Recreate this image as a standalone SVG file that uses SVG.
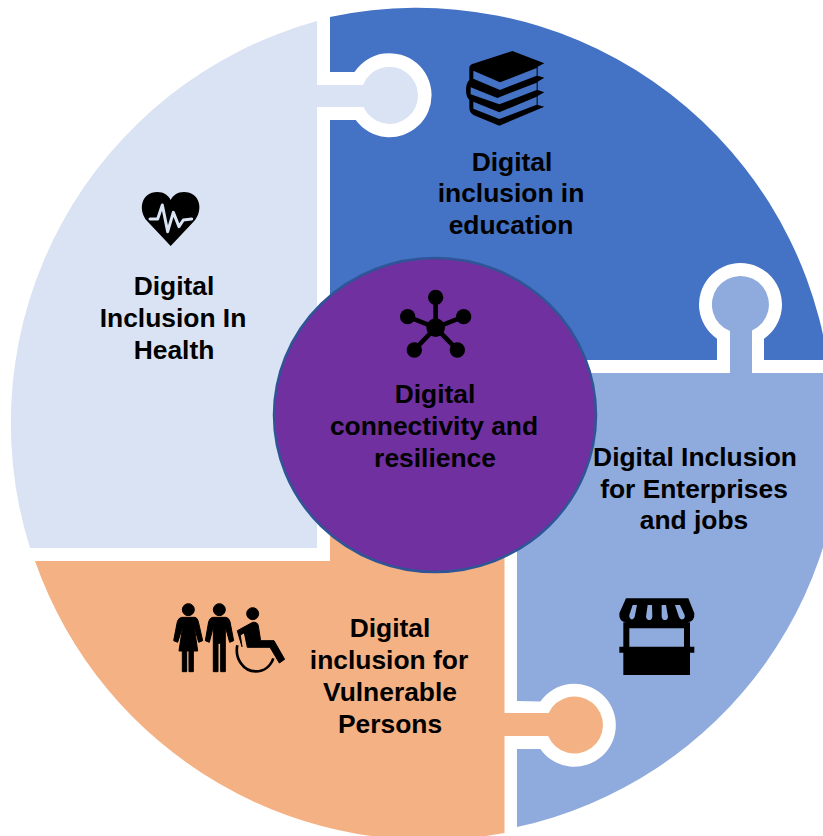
<svg xmlns="http://www.w3.org/2000/svg" width="823" height="836" viewBox="0 0 823 836">
<style>
.t{font-family:"Liberation Sans",Arial,sans-serif;font-weight:700;font-size:26.4px;fill:#000;text-anchor:middle}
.k{fill:#000}
</style>
<rect width="823" height="836" fill="#fff"/>
<g id="node-education">
<path fill="#4472c4" d="M330,17 A415.5,415.5 0 0 1 827.7,360 L764,360 L764,338.7 A41.5,41.5 0 1 0 717,338.7 L717,360 L330,360 L330,120 L355.7,120 A42,42 0 1 0 354.5,72 L330,72 Z"/>
<g class="k" transform="translate(440,30) scale(.3333)">
<path d="M217,63 L313,100 L293,110 L293,137 L313,143 L293,155 L293,180 L313,187 L293,198 L293,225 L313,230 L178,287 L100,255 Q88,248 88,232 L88,210 Q78,200 78,180 Q78,160 88,150 L88,115 Q88,105 97,102 Z"/>
<path fill="#4472c4" d="M100,122 L180,157 L290,114 L290,137 L180,180 L100,146 Z M92,172 L172,204 L290,158 L290,180 L178,223 L92,193 Z M100,215 L178,247 L290,200 L290,224 L178,267 L100,236 Z"/>
</g>
<text class="t" x="512" y="171">Digital</text>
<text class="t" x="511" y="202">inclusion in</text>
<text class="t" x="511" y="234">education</text>
</g>
<g id="node-health">
<path fill="#dae3f3" d="M317,21 A417,417 0 0 0 30,548 L317,548 L317,107 L363.5,107 A28.5,28.5 0 1 0 363,85 L317,85 Z"/>
<g transform="translate(130,180) scale(.3333)">
<path class="k" d="M122,198 L52,124 C22,90 34,36 82,36 C102,36 115,46 122,60 C129,46 142,36 162,36 C210,36 222,90 192,124 Z"/>
<path fill="none" stroke="#dae3f3" stroke-width="9" stroke-linejoin="round" stroke-linecap="round" d="M60,117 L83,117 L97,75 L113,155 L130,97 L147,140 L160,120 L185,117"/>
</g>
<text class="t" x="174" y="295">Digital</text>
<text class="t" x="173" y="327">Inclusion In</text>
<text class="t" x="174" y="359">Health</text>
</g>
<g id="node-enterprises">
<path fill="#8faadc" d="M517,373 L730,373 L730,331 A28.5,28.5 0 1 1 752,330.5 L752,373 L839,373 A413,413 0 0 1 517,827 L517,749 L540.3,749 A41.5,41.5 0 1 0 540.3,701.5 L517,701 Z"/>
<g transform="translate(600,585) scale(.3333)">
<path class="k" d="M78,40 L265,40 L283,85 Q285,110 262,112 L270,112 L270,185 L283,185 L283,203 L270,203 L270,270 L70,270 L70,203 L58,203 L58,185 L70,185 L70,112 L78,112 Q56,110 58,85 Z"/>
<path fill="#8faadc" d="M88,130 H252 V185 H88 Z M98,60 H111 L104,96 Q99,106 92,102 Q86,98 88,90 Z M143,60 H156 L157,95 Q155,105 148,105 Q140,105 138,95 Z M185,60 H198 L204,95 Q203,105 195,105 Q187,105 185,95 Z M225,60 H240 L254,90 Q256,100 248,103 Q241,105 237,96 Z"/>
</g>
<text class="t" x="695" y="466">Digital Inclusion</text>
<text class="t" x="694" y="498">for Enterprises</text>
<text class="t" x="694" y="529">and jobs</text>
</g>
<g id="node-vulnerable">
<path fill="#f4b183" d="M35,561 L330,561 L330,480 L504.5,480 L504.5,713 L548.6,713 A28.5,28.5 0 1 1 548.2,736 L504.5,736 L504.5,833 A417,417 0 0 1 35,561 Z"/>
<g class="k" stroke="#000" stroke-width="3" stroke-linejoin="round" transform="translate(160,590) scale(.3333)">
<circle cx="85" cy="59" r="18"/>
<path d="M65,82 L105,82 Q113,84 115,95 L128,152 L116,157 L103,110 L113,183 L100,183 L100,245 L87,245 L87,183 L80,183 L80,245 L67,245 L67,183 L57,183 L68,110 L53,157 L41,152 L52,95 Q55,84 65,82 Z"/>
<circle cx="178" cy="59" r="18"/>
<path d="M158,82 L198,82 Q207,84 210,95 L221,152 L209,157 L196,110 L196,245 L182,245 L182,160 L174,160 L174,245 L160,245 L160,110 L148,157 L136,152 L146,95 Q149,84 158,82 Z"/>
<circle cx="278" cy="71" r="18"/>
<path d="M232,122 L278,97 Q293,95 295,108 L302,152 L342,152 L374,208 L358,219 L330,172 L262,172 L253,128 L241,135 L246,170 Z"/>
<path fill="none" stroke="#000" stroke-width="8" d="M232,166 C224,205 250,244 287,244 C313,244 332,228 340,205"/>
</g>
<text class="t" x="390" y="637">Digital</text>
<text class="t" x="389" y="669">inclusion for</text>
<text class="t" x="390" y="701">Vulnerable</text>
<text class="t" x="390" y="733">Persons</text>
</g>
<g id="node-connectivity">
<ellipse cx="435" cy="415" rx="161" ry="157" fill="#7030a0" stroke="#2f5597" stroke-width="2.5"/>
<g transform="translate(380,280) scale(.3333)">
<path stroke="#000" stroke-width="14" fill="none" d="M167,143 L167,52 M167,143 L83,110 M167,143 L251,110 M167,143 L103,210 M167,143 L232,210"/>
<g class="k">
<circle cx="167" cy="143" r="28"/><circle cx="167" cy="52" r="23"/><circle cx="83" cy="110" r="23"/><circle cx="251" cy="110" r="23"/><circle cx="103" cy="210" r="23"/><circle cx="232" cy="210" r="23"/>
</g>
</g>
<text class="t" x="435" y="403">Digital</text>
<text class="t" x="434" y="435">connectivity and</text>
<text class="t" x="435" y="467">resilience</text>
</g>
<g id="connectors"></g>
</svg>
